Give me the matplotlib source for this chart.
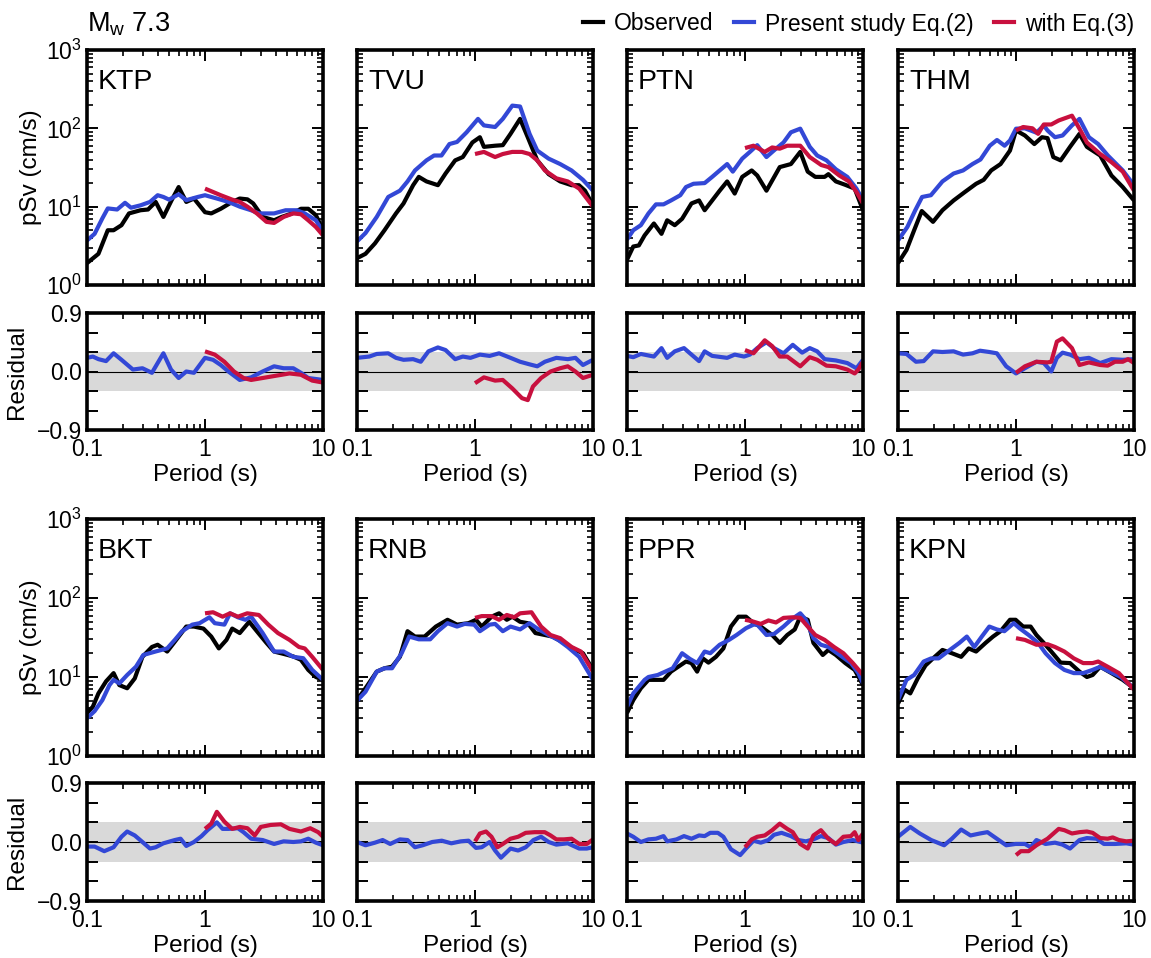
import matplotlib
matplotlib.use('Agg')
import matplotlib.pyplot as plt
from matplotlib.lines import Line2D
from matplotlib.ticker import LogLocator, NullFormatter, FixedLocator, FixedFormatter

plt.rcParams['font.family'] = ['Liberation Sans', 'DejaVu Sans']
plt.rcParams['mathtext.fontset'] = 'custom'
plt.rcParams['mathtext.rm'] = 'Liberation Sans'
plt.rcParams['mathtext.it'] = 'Liberation Sans:italic'

# ---- pseudo-velocity spectra, (period [s], pSv [cm/s]) ----
ktp_obs = [(0.1, 1.9), (0.125, 2.5), (0.15, 5.0), (0.168, 5.0), (0.196, 5.8), (0.227, 8.2), (0.284, 9.0),
           (0.329, 9.2), (0.382, 11.5), (0.444, 7.4), (0.52, 12.0), (0.598, 17.8), (0.694, 11.5), (0.806, 12.7),
           (1.0, 8.5), (1.13, 8.2), (1.36, 9.4), (1.70, 11.5), (1.97, 12.7), (2.29, 12.4), (2.56, 11.0),
           (3.08, 7.4), (3.85, 6.7), (4.47, 7.4), (5.6, 8.3), (6.5, 9.4), (7.5, 9.4), (8.7, 7.8), (10, 5.0)]
ktp_eq2 = [(0.1, 3.7), (0.116, 4.5), (0.135, 7.1), (0.15, 9.5), (0.18, 9.2), (0.21, 11.2), (0.236, 9.7),
           (0.284, 10.4), (0.342, 11.5), (0.397, 14), (0.444, 13.3), (0.496, 12.3), (0.598, 14.4), (0.694, 12.1),
           (0.868, 13.3), (1.0, 14), (1.26, 12.7), (1.58, 11.5), (1.97, 10), (2.46, 9), (2.86, 8.2), (3.85, 8.2),
           (4.82, 9), (6.0, 9), (7.0, 8.2), (8.7, 6.7), (10, 4.8)]
ktp_eq3 = [(1.0, 17), (1.17, 15.4), (1.36, 14), (1.70, 12.3), (1.97, 11.5), (2.29, 10), (2.75, 8.2), (3.32, 6.4),
           (3.85, 6.2), (4.64, 7.4), (5.6, 8.2), (6.5, 8.0), (7.5, 6.7), (8.7, 5.5), (10, 4.3)]

tvu_obs = [(0.1, 2.2), (0.118, 2.5), (0.142, 3.4), (0.171, 5.0), (0.214, 8.2), (0.248, 11), (0.299, 18.8),
           (0.334, 24), (0.388, 21), (0.485, 18.8), (0.563, 26.5), (0.679, 39), (0.788, 43), (0.95, 66),
           (1.10, 77), (1.19, 58), (1.48, 60), (1.72, 61), (2.0, 85), (2.41, 132), (2.80, 77), (3.37, 39),
           (4.21, 26), (5.27, 21), (6.58, 18.8), (7.6, 18.8), (8.55, 16), (10, 10.4)]
tvu_eq2 = [(0.1, 3.6), (0.118, 4.6), (0.147, 7.4), (0.184, 13.3), (0.231, 16), (0.268, 21), (0.31, 29),
           (0.388, 39), (0.45, 45), (0.52, 45), (0.607, 63), (0.704, 67), (0.849, 89), (1.06, 132), (1.19, 109),
           (1.48, 104), (1.72, 132), (2.07, 195), (2.41, 190), (2.90, 85), (3.37, 52), (4.21, 41), (5.27, 35),
           (6.58, 29), (8.22, 22), (10, 16)]
tvu_eq3 = [(1.0, 47), (1.19, 50), (1.48, 43), (1.72, 47), (2.07, 50), (2.5, 50), (2.90, 47), (3.37, 39),
           (3.91, 29), (4.89, 23), (6.11, 21), (7.64, 17), (10, 10)]

ptn_obs = [(0.1, 2.1), (0.113, 3.1), (0.126, 3.2), (0.141, 4.3), (0.169, 6.1), (0.196, 4.5), (0.219, 6.7),
           (0.254, 5.8), (0.293, 7.0), (0.352, 11), (0.408, 12), (0.455, 9), (0.527, 12), (0.61, 16),
           (0.706, 21), (0.818, 14.7), (0.947, 24), (1.14, 29), (1.27, 25), (1.52, 16), (1.97, 32), (2.45, 35),
           (2.94, 50), (3.40, 28), (3.94, 24), (4.73, 24), (5.09, 26), (5.89, 21), (7.08, 19), (8.5, 17), (10, 9)]
ptn_eq2 = [(0.1, 3.8), (0.113, 5.0), (0.131, 5.8), (0.152, 8.2), (0.176, 10.7), (0.204, 10.7), (0.236, 12),
           (0.283, 14), (0.316, 17.8), (0.366, 19.6), (0.455, 20), (0.527, 24), (0.61, 29), (0.706, 35),
           (0.788, 28), (0.947, 41), (1.10, 50), (1.27, 61), (1.52, 43), (1.83, 55), (2.12, 66), (2.45, 89),
           (2.94, 99), (3.54, 58), (4.09, 45), (4.9, 39), (5.89, 30), (7.36, 24), (8.8, 17), (10, 12)]
ptn_eq3 = [(1.0, 56), (1.18, 60), (1.47, 50), (1.7, 57), (1.97, 55), (2.28, 60), (2.94, 60), (3.54, 43),
           (4.43, 34), (5.09, 32), (6.3, 25), (7.6, 21), (8.8, 15.4), (10, 11)]

thm_obs = [(0.1, 1.9), (0.118, 2.8), (0.137, 5.0), (0.159, 8.8), (0.198, 6.4), (0.238, 9), (0.296, 12),
           (0.369, 15.4), (0.459, 19.6), (0.532, 22), (0.616, 29), (0.74, 35), (0.889, 52), (1.0, 94),
           (1.19, 81), (1.43, 63), (1.66, 77), (1.85, 75), (2.07, 43), (2.39, 39), (2.87, 58), (3.45, 85),
           (3.99, 58), (5.17, 45), (6.44, 25), (8.03, 17.8), (10, 12)]
thm_eq2 = [(0.1, 3.7), (0.12, 5.5), (0.14, 9), (0.16, 13.3), (0.19, 14), (0.238, 21), (0.296, 26.5),
           (0.356, 29), (0.428, 35), (0.5, 40), (0.6, 60), (0.69, 71), (0.8, 60), (0.889, 70), (1.0, 99),
           (1.19, 100), (1.49, 88), (1.72, 109), (1.85, 94), (2.14, 77), (2.48, 81), (2.98, 109), (3.45, 132),
           (4.15, 77), (4.97, 63), (6.0, 45), (8.03, 29), (10, 18.8)]
thm_eq3 = [(1.0, 94), (1.15, 104), (1.38, 100), (1.54, 85), (1.72, 112), (1.99, 112), (2.3, 126), (2.98, 145),
           (3.45, 99), (3.99, 66), (5.17, 47), (6.44, 37), (8.03, 28), (10, 16)]

bkt_obs = [(0.1, 3.5), (0.112, 4.2), (0.125, 6.2), (0.145, 8.8), (0.168, 11.2), (0.188, 7.9), (0.219, 7.2),
           (0.254, 9.6), (0.295, 18), (0.355, 24), (0.397, 25.6), (0.478, 21), (0.555, 28), (0.694, 43.5),
           (0.806, 43.5), (0.97, 41), (1.13, 32.5), (1.31, 23), (1.52, 29.5), (1.70, 41), (1.97, 36),
           (2.37, 50), (2.75, 38), (3.32, 27), (3.85, 21), (4.64, 19.6), (5.6, 18.2), (6.5, 16.5), (7.5, 12.3),
           (8.7, 10), (10, 9.2)]
bkt_eq2 = [(0.1, 3.0), (0.116, 3.7), (0.135, 5.1), (0.155, 7.9), (0.168, 9.2), (0.188, 8.3), (0.219, 10.6),
           (0.26, 13.5), (0.3, 19), (0.38, 21), (0.478, 23), (0.555, 29.5), (0.64, 38), (0.78, 46), (0.9, 48),
           (1.09, 57), (1.21, 48), (1.46, 46), (1.63, 64), (1.9, 57), (2.2, 53), (2.46, 58), (3.08, 36),
           (3.85, 21), (4.64, 21), (5.6, 18), (6.8, 17.3), (8.1, 12.3), (10, 9.2)]
bkt_eq3 = [(1.0, 64), (1.17, 66), (1.41, 58), (1.63, 64), (1.9, 58), (2.28, 64), (2.86, 61), (3.44, 46),
           (4.15, 36), (5.2, 29.5), (6.25, 24), (7.0, 23), (8.1, 18), (10, 12.3)]

rnb_obs = [(0.1, 5.1), (0.118, 7.2), (0.147, 11.7), (0.171, 12.9), (0.198, 13.5), (0.231, 18), (0.268, 38),
           (0.31, 32.5), (0.374, 32.5), (0.466, 43.5), (0.585, 53), (0.704, 46), (0.88, 48), (1.02, 53),
           (1.14, 43.5), (1.38, 58), (1.6, 64), (1.86, 53), (2.07, 58), (2.41, 50), (2.80, 48), (3.25, 36),
           (3.91, 34), (4.54, 32.5), (5.67, 27), (7.1, 22), (8.22, 20), (10, 12.3)]
rnb_eq2 = [(0.1, 5.0), (0.118, 6.5), (0.147, 11.7), (0.171, 12.9), (0.198, 12.9), (0.239, 20), (0.277, 32.5),
           (0.334, 30), (0.417, 30), (0.485, 38), (0.585, 48), (0.704, 43.5), (0.818, 47), (0.985, 46),
           (1.10, 38), (1.33, 46), (1.48, 47), (1.72, 38), (2.0, 43.5), (2.41, 40), (2.90, 48), (3.37, 41),
           (4.21, 34), (5.07, 29.5), (6.11, 24), (7.64, 18), (10, 9.2)]
rnb_eq3 = [(1.0, 56), (1.14, 59), (1.38, 59), (1.6, 53), (1.86, 61), (2.15, 57), (2.41, 64), (3.01, 66),
           (3.63, 43.5), (4.37, 34), (5.27, 31), (6.58, 24), (7.9, 21), (10, 11.7)]

ppr_obs = [(0.1, 3.5), (0.113, 5.1), (0.131, 7.2), (0.152, 9.2), (0.176, 9.2), (0.204, 9.2), (0.236, 11.7),
           (0.272, 13.5), (0.316, 15.7), (0.352, 15), (0.393, 11.7), (0.439, 17.2), (0.49, 15.2), (0.567, 18),
           (0.656, 23), (0.76, 43.5), (0.88, 58), (1.02, 58), (1.18, 48), (1.36, 43.5), (1.70, 34), (1.97, 27),
           (2.28, 34), (2.64, 40), (2.94, 58), (3.40, 53), (3.80, 27), (4.56, 19), (5.09, 22), (5.89, 19),
           (7.08, 15), (8.5, 12.3), (10, 7.9)]
ppr_eq2 = [(0.1, 4.2), (0.113, 6.2), (0.141, 9.2), (0.152, 10), (0.182, 10.6), (0.211, 11.7), (0.244, 12.9),
           (0.293, 20), (0.34, 17), (0.393, 15), (0.455, 21), (0.508, 20), (0.61, 25.6), (0.732, 29.5),
           (0.848, 34), (1.02, 41.5), (1.18, 46), (1.27, 46), (1.52, 34), (1.76, 35), (2.12, 43.5), (2.45, 53),
           (2.94, 64), (3.28, 53), (3.80, 31), (4.4, 25.6), (5.09, 24), (6.34, 19), (7.9, 15), (9.14, 11.2),
           (10, 8.3)]
ppr_eq3 = [(1.0, 53), (1.14, 51), (1.36, 47), (1.58, 52), (1.83, 49), (2.12, 56), (2.54, 57), (2.94, 56),
           (3.40, 43.5), (3.94, 34), (4.73, 29.5), (5.68, 24), (6.82, 20), (8.2, 15), (10, 10.6)]

kpn_obs = [(0.1, 4.6), (0.114, 6.9), (0.127, 6.2), (0.147, 9.6), (0.171, 14), (0.198, 17.2), (0.238, 22),
           (0.286, 20), (0.343, 18), (0.397, 23), (0.459, 21), (0.552, 27), (0.639, 32.5), (0.74, 38),
           (0.889, 53), (0.993, 53), (1.15, 43.5), (1.33, 43.5), (1.49, 34), (1.72, 27), (1.99, 21),
           (2.39, 15.2), (2.87, 15), (3.45, 11.7), (3.99, 10), (4.46, 10.6), (5.17, 13.5), (6.44, 11.2),
           (8.03, 9.2), (10, 7.2)]
kpn_eq2 = [(0.1, 5.1), (0.118, 9.2), (0.137, 10.6), (0.165, 15.7), (0.191, 17.2), (0.221, 17.2), (0.275, 22),
           (0.331, 27), (0.383, 32.5), (0.443, 24), (0.513, 32.5), (0.594, 43.5), (0.688, 40), (0.797, 38),
           (0.957, 48), (1.07, 41.5), (1.28, 34), (1.54, 27), (1.78, 20), (2.14, 15), (2.57, 12.3), (3.09, 11.2),
           (3.71, 11.2), (4.46, 12.3), (5.17, 13.5), (6.2, 11.7), (7.73, 10), (10, 7.2)]
kpn_eq3 = [(1.0, 31), (1.19, 29.5), (1.49, 25.6), (1.85, 26), (2.14, 24), (2.57, 21), (3.09, 17.2), (3.71, 15),
           (4.46, 15), (4.97, 15.7), (5.98, 13.5), (7.45, 11.2), (10, 6.9)]

# ---- residuals, (period [s], residual) ----
ktp_res2 = [(0.1, 0.21), (0.112, 0.23), (0.125, 0.19), (0.145, 0.16), (0.168, 0.28), (0.196, 0.18), (0.245, 0.03),
            (0.295, 0.05), (0.355, -0.02), (0.444, 0.28), (0.515, 0.03), (0.598, -0.10), (0.694, 0.0),
            (0.806, -0.02), (1.0, 0.21), (1.17, 0.18), (1.36, 0.10), (1.58, 0.0), (1.97, -0.13), (2.46, -0.09),
            (3.08, 0.0), (3.85, 0.08), (4.64, 0.05), (5.6, 0.05), (6.5, -0.02), (7.5, -0.10), (10, -0.13)]
ktp_res3 = [(1.0, 0.31), (1.21, 0.26), (1.46, 0.15), (1.76, 0.0), (2.12, -0.10), (2.46, -0.13), (3.08, -0.10),
            (3.85, -0.07), (5.2, -0.03), (6.5, -0.05), (8.1, -0.14), (10, -0.17)]

tvu_res2 = [(0.1, 0.21), (0.127, 0.23), (0.147, 0.27), (0.184, 0.28), (0.214, 0.21), (0.248, 0.18), (0.299, 0.19),
            (0.347, 0.15), (0.403, 0.31), (0.485, 0.37), (0.563, 0.33), (0.679, 0.19), (0.788, 0.23),
            (0.915, 0.21), (1.10, 0.26), (1.33, 0.24), (1.6, 0.28), (2.0, 0.21), (2.41, 0.15), (2.90, 0.11),
            (3.37, 0.08), (3.91, 0.15), (4.89, 0.21), (6.11, 0.19), (7.1, 0.21), (8.22, 0.10), (10, 0.18)]
tvu_res3 = [(1.0, -0.18), (1.19, -0.09), (1.48, -0.14), (1.72, -0.13), (2.07, -0.26), (2.5, -0.41), (2.8, -0.44),
            (3.1, -0.23), (3.63, -0.10), (4.37, 0.0), (5.27, 0.05), (6.11, 0.08), (7.1, 0.0), (8.22, -0.10),
            (10, -0.05)]

ptn_res2 = [(0.1, 0.24), (0.113, 0.22), (0.131, 0.27), (0.169, 0.23), (0.196, 0.36), (0.219, 0.21), (0.254, 0.31),
            (0.304, 0.36), (0.352, 0.26), (0.408, 0.16), (0.455, 0.31), (0.527, 0.24), (0.706, 0.21),
            (0.818, 0.26), (0.982, 0.23), (1.10, 0.26), (1.27, 0.36), (1.52, 0.45), (1.76, 0.36), (2.12, 0.28),
            (2.54, 0.41), (3.05, 0.29), (3.54, 0.36), (4.09, 0.31), (4.73, 0.19), (5.89, 0.17), (7.36, 0.13),
            (8.8, 0.05), (10, 0.18)]
ptn_res3 = [(1.0, 0.33), (1.18, 0.28), (1.47, 0.48), (1.7, 0.39), (1.97, 0.23), (2.28, 0.23), (2.94, 0.08),
            (3.54, 0.22), (4.09, 0.18), (4.9, 0.09), (5.89, 0.08), (7.36, 0.03), (8.5, -0.03), (9.14, 0.03),
            (10, 0.15)]

thm_res2 = [(0.1, 0.28), (0.118, 0.27), (0.142, 0.15), (0.165, 0.16), (0.198, 0.31), (0.238, 0.30), (0.296, 0.31),
            (0.356, 0.26), (0.428, 0.28), (0.495, 0.32), (0.594, 0.30), (0.688, 0.28), (0.826, 0.08),
            (1.0, -0.03), (1.19, 0.05), (1.49, 0.15), (1.72, 0.13), (1.99, 0.0), (2.22, 0.21), (2.48, 0.29),
            (2.87, 0.26), (3.45, 0.19), (4.15, 0.21), (5.17, 0.13), (6.44, 0.19), (8.03, 0.18), (10, 0.19)]
thm_res3 = [(1.0, -0.02), (1.19, 0.08), (1.49, 0.15), (1.85, 0.14), (1.99, 0.15), (2.22, 0.46), (2.48, 0.51),
            (2.98, 0.36), (3.45, 0.10), (4.15, 0.14), (5.17, 0.10), (5.98, 0.09), (6.9, 0.15), (8.03, 0.15),
            (8.9, 0.19), (10, 0.13)]

bkt_res2 = [(0.1, -0.07), (0.116, -0.07), (0.14, -0.14), (0.168, -0.08), (0.196, 0.08), (0.219, 0.16),
            (0.254, 0.10), (0.295, 0.0), (0.342, -0.10), (0.382, -0.08), (0.444, -0.02), (0.555, 0.03),
            (0.621, 0.05), (0.694, -0.06), (0.806, 0.0), (0.935, 0.09), (1.05, 0.18), (1.26, 0.30), (1.41, 0.20),
            (1.58, 0.20), (1.90, 0.21), (2.12, 0.15), (2.46, 0.05), (3.08, 0.03), (3.85, -0.03), (4.64, 0.01),
            (5.6, 0.0), (6.5, 0.01), (7.5, 0.05), (8.7, -0.01), (10, -0.05)]
bkt_res3 = [(1.0, 0.20), (1.13, 0.28), (1.26, 0.46), (1.46, 0.31), (1.70, 0.20), (1.97, 0.23), (2.29, 0.21),
            (2.64, 0.10), (2.97, 0.23), (3.6, 0.26), (4.4, 0.27), (5.2, 0.20), (6.5, 0.16), (7.8, 0.21),
            (9.1, 0.15), (10, 0.08)]

rnb_res2 = [(0.1, 0.0), (0.118, -0.05), (0.142, -0.01), (0.165, 0.03), (0.191, -0.03), (0.231, 0.04),
            (0.268, 0.03), (0.31, -0.08), (0.36, -0.05), (0.434, 0.0), (0.523, 0.02), (0.63, -0.02),
            (0.759, 0.01), (0.881, 0.02), (1.02, -0.09), (1.14, -0.08), (1.33, 0.0), (1.48, -0.13), (1.66, -0.24),
            (2.0, -0.10), (2.32, -0.13), (2.69, -0.08), (3.13, 0.03), (3.63, 0.08), (4.21, 0.0), (4.89, -0.04),
            (6.11, -0.02), (7.64, -0.10), (8.86, -0.10), (10, -0.08)]
rnb_res3 = [(1.0, 0.01), (1.10, 0.13), (1.24, 0.16), (1.38, 0.08), (1.55, -0.08), (1.72, -0.03), (2.0, 0.05),
            (2.32, 0.08), (2.69, 0.14), (3.2, 0.15), (3.9, 0.15), (4.37, 0.10), (4.89, 0.04), (5.67, 0.04),
            (6.58, 0.05), (7.64, -0.03), (8.86, -0.03), (10, 0.04)]

ppr_res2 = [(0.1, 0.13), (0.113, 0.08), (0.131, 0.0), (0.152, 0.04), (0.176, 0.05), (0.204, 0.09), (0.219, 0.01),
            (0.263, 0.04), (0.304, 0.09), (0.352, 0.05), (0.408, 0.10), (0.455, 0.09), (0.508, 0.14),
            (0.589, 0.14), (0.656, 0.08), (0.76, -0.11), (0.91, -0.20), (1.02, -0.10), (1.18, 0.02),
            (1.36, -0.01), (1.58, 0.03), (1.76, 0.11), (2.04, 0.14), (2.45, 0.09), (2.83, 0.03), (3.28, 0.01),
            (3.80, 0.04), (4.4, 0.09), (5.09, 0.06), (5.89, -0.04), (6.82, 0.0), (8.2, 0.03), (10, -0.01)]
ppr_res3 = [(1.0, -0.08), (1.14, 0.04), (1.27, 0.08), (1.47, 0.10), (1.70, 0.18), (1.97, 0.28), (2.28, 0.20),
            (2.54, 0.15), (2.94, -0.03), (3.40, -0.10), (3.80, 0.10), (4.4, 0.18), (5.09, 0.05), (5.89, -0.03),
            (6.82, 0.08), (7.9, 0.09), (8.5, 0.15), (9.14, 0.03), (10, 0.13)]

kpn_res2 = [(0.1, 0.08), (0.127, 0.23), (0.153, 0.13), (0.191, 0.03), (0.246, -0.05), (0.286, 0.05),
            (0.343, 0.19), (0.412, 0.10), (0.495, 0.13), (0.573, 0.15), (0.688, 0.05), (0.826, -0.05),
            (0.993, -0.03), (1.19, -0.03), (1.33, -0.08), (1.49, 0.03), (1.78, -0.03), (2.14, -0.01),
            (2.48, -0.04), (2.87, -0.10), (3.45, 0.03), (3.99, 0.06), (4.8, 0.05), (5.56, -0.03), (6.9, -0.03),
            (8.6, -0.02), (10, -0.04)]
kpn_res3 = [(1.0, -0.20), (1.1, -0.14), (1.28, -0.14), (1.49, -0.05), (1.85, 0.05), (2.3, 0.20), (2.57, 0.18),
            (2.98, 0.13), (3.45, 0.15), (3.99, 0.16), (4.46, 0.14), (5.17, 0.06), (5.98, 0.05), (6.6, 0.07),
            (7.45, 0.03), (8.6, 0.01), (10, 0.02)]

stations = ['KTP', 'TVU', 'PTN', 'THM', 'BKT', 'RNB', 'PPR', 'KPN']
obs_all = [ktp_obs, tvu_obs, ptn_obs, thm_obs, bkt_obs, rnb_obs, ppr_obs, kpn_obs]
eq2_all = [ktp_eq2, tvu_eq2, ptn_eq2, thm_eq2, bkt_eq2, rnb_eq2, ppr_eq2, kpn_eq2]
eq3_all = [ktp_eq3, tvu_eq3, ptn_eq3, thm_eq3, bkt_eq3, rnb_eq3, ppr_eq3, kpn_eq3]
res2_all = [ktp_res2, tvu_res2, ptn_res2, thm_res2, bkt_res2, rnb_res2, ppr_res2, kpn_res2]
res3_all = [ktp_res3, tvu_res3, ptn_res3, thm_res3, bkt_res3, rnb_res3, ppr_res3, kpn_res3]

C_OBS = 'black'
C_EQ2 = '#3348d6'
C_EQ3 = '#c8103e'
LW = 3.0
TICK_FS = 16.5
LABEL_FS = 17.5

W, H = 1151, 958
fig = plt.figure(figsize=(W / 100, H / 100), dpi=100)

col_left = [87, 357, 627, 898]
panel_w = 236
# pixel rows: (spectrum top, spectrum bottom, residual top, residual bottom)
row_px = [(50, 285, 313, 430), (519, 756, 783, 901)]


def add_px_axes(left, top, bottom):
    return fig.add_axes([left / W, 1 - bottom / H, panel_w / W, (bottom - top) / H])


def frame(ax):
    ax.set_xscale('log')
    ax.set_xlim(0.1, 10)
    ax.xaxis.set_major_locator(FixedLocator([0.1, 1, 10]))
    ax.xaxis.set_minor_locator(LogLocator(base=10, subs=range(2, 10)))
    ax.xaxis.set_minor_formatter(NullFormatter())
    ax.tick_params(which='both', direction='in', top=True, right=True, labelsize=TICK_FS)
    ax.tick_params(which='major', length=8, width=1.4)
    ax.tick_params(which='minor', length=4, width=1.2)
    for sp in ax.spines.values():
        sp.set_linewidth(2.6)


def draw(ax, pairs, color):
    t, v = zip(*pairs)
    ax.plot(t, v, color=color, lw=LW, solid_joinstyle='round', solid_capstyle='butt')


for i, name in enumerate(stations):
    r, c = divmod(i, 4)
    s_top, s_bot, r_top, r_bot = row_px[r]

    # spectrum panel
    ax = add_px_axes(col_left[c], s_top, s_bot)
    frame(ax)
    ax.set_yscale('log')
    ax.set_ylim(1, 1000)
    ax.yaxis.set_major_locator(FixedLocator([1, 10, 100, 1000]))
    ax.yaxis.set_minor_locator(LogLocator(base=10, subs=range(2, 10)))
    ax.yaxis.set_minor_formatter(NullFormatter())
    ax.set_yticklabels([r'$10^0$', r'$10^1$', r'$10^2$', r'$10^3$'])
    ax.tick_params(labelbottom=False, labelleft=(c == 0))
    draw(ax, obs_all[i], C_OBS)
    draw(ax, eq2_all[i], C_EQ2)
    draw(ax, eq3_all[i], C_EQ3)
    ax.text(0.047, 0.835, name, transform=ax.transAxes, fontsize=20.5, va='baseline', ha='left')
    if c == 0:
        ax.set_ylabel('pSv (cm/s)', fontsize=LABEL_FS)
        ax.yaxis.set_label_coords(-0.19, 0.5)

    # residual panel
    rx = add_px_axes(col_left[c], r_top, r_bot)
    frame(rx)
    rx.set_ylim(-0.9, 0.9)
    rx.yaxis.set_major_locator(FixedLocator([-0.9, -0.6, -0.3, 0.0, 0.3, 0.6, 0.9]))
    rx.yaxis.set_major_formatter(FixedFormatter(['\u22120.9', '', '', '0.0', '', '', '0.9']))
    rx.xaxis.set_major_formatter(FixedFormatter(['0.1', '1', '10']))
    rx.tick_params(labelleft=(c == 0))
    rx.tick_params(axis='x', pad=6)
    rx.axhspan(-0.3, 0.3, color='#d9d9d9', lw=0, zorder=0)
    rx.axhline(0, color='black', lw=0.8, zorder=1)
    draw(rx, res2_all[i], C_EQ2)
    draw(rx, res3_all[i], C_EQ3)
    rx.set_xlabel('Period (s)', fontsize=LABEL_FS, labelpad=2)
    if c == 0:
        rx.set_ylabel('Residual', fontsize=LABEL_FS)
        rx.yaxis.set_label_coords(-0.25, 0.5)

fig.text(87 / W, 1 - 24 / H, r'M$_{\rm w}$ 7.3', fontsize=19.5, va='center', ha='left')

handles = [Line2D([], [], color=C_OBS, lw=LW),
           Line2D([], [], color=C_EQ2, lw=LW),
           Line2D([], [], color=C_EQ3, lw=LW)]
fig.legend(handles, ['Observed', 'Present study Eq.(2)', 'with Eq.(3)'],
           loc='center right', bbox_to_anchor=(1143 / W, 1 - 24 / H), ncol=3, frameon=False,
           fontsize=16.5, handlelength=0.9, handletextpad=0.45, columnspacing=0.9, borderaxespad=0)

fig.savefig('out.png', dpi=100)
